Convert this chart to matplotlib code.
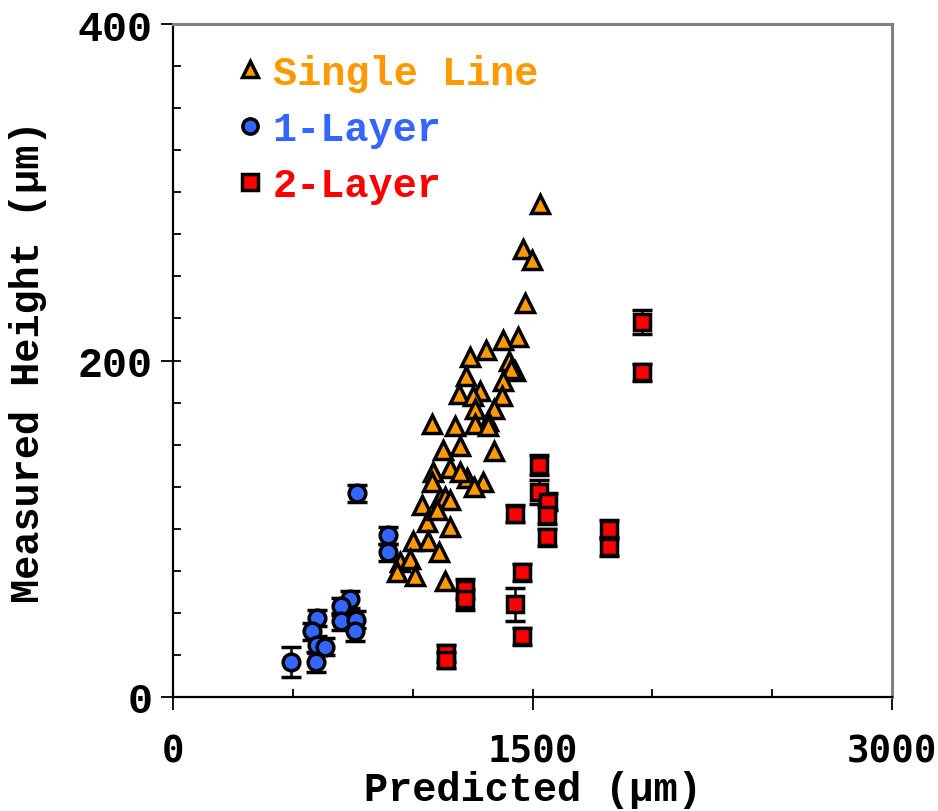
#!/usr/bin/env python3
"""Measured height vs predicted, three print types."""
import matplotlib
matplotlib.use("Agg")
import matplotlib.pyplot as plt
from matplotlib.lines import Line2D
from matplotlib.ticker import MultipleLocator

# Single Line (no error bars)
single_x = [1531, 1460, 1498, 1469, 1439, 1377, 1306, 1239, 1402, 1427, 1410, 1222,
            1281, 1193, 1252, 1377, 1373, 1339, 1260, 1314, 1081, 1176, 1260, 1314,
            1126, 1197, 1339, 1156, 1085, 1227, 1293, 1081, 1256, 1114, 1135, 1039,
            1156, 1060, 1156, 1001, 1064, 1110, 947, 989, 1010, 935, 1135, 1101, 1197]
single_y = [293, 266, 260, 234, 214, 212, 206, 202, 200, 194, 195, 191,
            182, 180, 179, 188, 179, 171, 171, 164, 162, 161, 162, 161,
            147, 149, 146, 136, 134, 130, 128, 128, 125, 118, 119, 114,
            117, 104, 101, 93, 93, 86, 80, 82, 72, 74, 69, 111, 134]

# 1-Layer
one_x = [768, 897, 897, 738, 701, 701, 763, 759, 601, 580, 601, 634, 597, 492]
one_y = [121, 96, 86, 58, 54, 45, 46, 39, 47, 39, 31, 30, 21, 21]
one_err = [5, 5, 5, 5, 5, 5, 5, 6, 5, 5, 5, 5, 6, 9]

# 2-Layer
two_x = [1957, 1957, 1527, 1527, 1564, 1560, 1560, 1427, 1819, 1819, 1456,
         1427, 1456, 1218, 1218, 1139, 1139]
two_y = [223, 193, 138, 122, 116, 108, 95, 109, 100, 89, 74, 55, 36, 64, 58, 26, 22]
two_err = [7, 5, 6, 7, 5, 5, 5, 5, 5, 5, 5, 10, 5, 6, 6, 5, 5]

ORANGE = "#FF9900"
BLUE = "#3366FF"
RED = "#FF0000"
FONT = "Liberation Mono"

fig = plt.figure(figsize=(9.38, 8.12), dpi=100)
ax = fig.add_axes([0.1844, 0.1404, 0.7666, 0.8288])

ax.errorbar(one_x, one_y, yerr=one_err, fmt="o", ms=12, mfc=BLUE, mec="black",
            mew=2.5, ecolor="black", elinewidth=1.8, capsize=7, capthick=1.8, zorder=3)
ax.errorbar(two_x, two_y, yerr=two_err, fmt="s", ms=12, mfc=RED, mec="black",
            mew=2.5, ecolor="black", elinewidth=1.8, capsize=7, capthick=1.8, zorder=3)
ax.plot(single_x, single_y, "^", ms=13, mfc=ORANGE, mec="black", mew=2.5,
        ls="none", zorder=4)

ax.set_xlim(0, 3000)
ax.set_ylim(0, 400)
ax.set_xticks([0, 1500, 3000])
ax.set_yticks([0, 200, 400])
ax.xaxis.set_minor_locator(MultipleLocator(500))
ax.yaxis.set_minor_locator(MultipleLocator(25))
ax.xaxis.remove_overlapping_locs = False
ax.yaxis.remove_overlapping_locs = False
ax.tick_params(which="minor", direction="in", length=6, width=1.3, color="black")
ax.tick_params(axis="x", which="major", direction="out", length=9, width=1.3, pad=17)
ax.tick_params(axis="y", which="major", direction="out", length=9, width=1.3, pad=6)

for lab in ax.get_xticklabels():
    lab.set_fontfamily("DejaVu Sans Mono")
    lab.set_fontweight("bold")
    lab.set_fontsize(27)
for lab in ax.get_yticklabels():
    lab.set_fontfamily(FONT)
    lab.set_fontweight("bold")
    lab.set_fontsize(30)

ax.set_xlabel("Predicted (µm)", fontfamily=FONT, fontweight="bold", fontsize=29, labelpad=1)
ax.set_ylabel("Measured Height (µm)", fontfamily=FONT, fontweight="bold", fontsize=29, labelpad=22)

for side in ("left", "bottom"):
    ax.spines[side].set_color("black")
    ax.spines[side].set_linewidth(1.6)
for side in ("top", "right"):
    ax.spines[side].set_color("#808080")
    ax.spines[side].set_linewidth(2.2)

handles = [
    Line2D([], [], marker="^", ls="none", ms=12, mfc=ORANGE, mec="black", mew=2.5),
    Line2D([], [], marker="o", ls="none", ms=11, mfc=BLUE, mec="black", mew=2.5),
    Line2D([], [], marker="s", ls="none", ms=11, mfc=RED, mec="black", mew=2.5),
]
ax.legend(handles, ["Single Line", "1-Layer", "2-Layer"], loc="upper left",
          bbox_to_anchor=(0.035, 1.01), frameon=False, handlelength=0.8,
          handletextpad=0.15, labelspacing=0.45, labelcolor=[ORANGE, BLUE, RED],
          prop={"family": FONT, "weight": "bold", "size": 29})

fig.savefig("out.png", dpi=100)
